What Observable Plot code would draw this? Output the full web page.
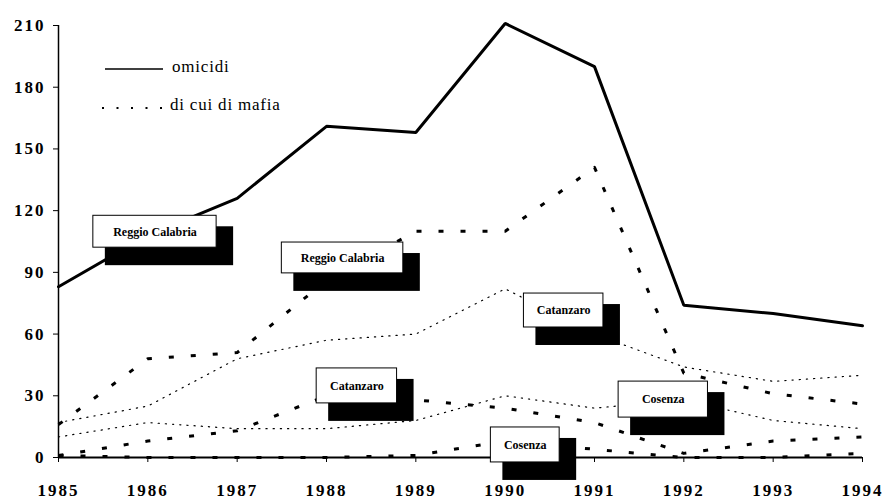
<!DOCTYPE html>
<html>
<head>
<meta charset="utf-8">
<script src="https://cdn.jsdelivr.net/npm/d3@7"></script>
<script src="https://cdn.jsdelivr.net/npm/@observablehq/plot@0.6"></script>
<style>
  html, body { margin: 0; padding: 0; background: #fff; }
  #wrap { position: relative; width: 882px; height: 500px; }
  #legend { position: absolute; left: 0; top: 0; width: 882px; height: 500px; pointer-events: none; }
  #legend .lab { position: absolute; font-family: "Liberation Serif", serif; font-size: 17px; color: #000; letter-spacing: 0.8px; white-space: nowrap; }
</style>
</head>
<body>
<div id="wrap">
  <div id="chart"></div>
  <div id="legend">
    <svg width="882" height="500" style="position:absolute;left:0;top:0">
      <line x1="105" y1="69" x2="163" y2="69" stroke="#000" stroke-width="1.5"/>
      <line x1="102" y1="108" x2="162" y2="108" stroke="#000" stroke-width="2.2" stroke-dasharray="2,12.5"/>
    </svg>
    <div class="lab" style="left:172px;top:57px;">omicidi</div>
    <div class="lab" style="left:170px;top:95px;">di cui di mafia</div>
  </div>
</div>
<script>
const years = [1985, 1986, 1987, 1988, 1989, 1990, 1991, 1992, 1993, 1994];
const yTicks = [0, 30, 60, 90, 120, 150, 180, 210];

const reggioOmicidi    = [83, 108, 126, 161, 158, 211, 190, 74, 70, 64];
const reggioMafia      = [16, 48, 51, 86, 110, 110, 141, 41, 31, 26];
const catanzaroOmicidi = [17, 25, 48, 57, 60, 82, 60, 44, 37, 40];
const catanzaroMafia   = [1, 8, 13, 30, 28, 24, 17, 2, 8, 10];
const cosenzaOmicidi   = [10, 17, 14, 14, 18, 30, 24, 28, 18, 14];
const cosenzaMafia     = [1, 0, 0, 0, 1, 8, 4, 0, 0, 2];

// province label boxes (anchored in data units: years / values)
const labelText = ["Reggio Calabria", "Reggio Calabria", "Catanzaro", "Catanzaro", "Cosenza", "Cosenza"];
const labelX1 = [1985.39, 1987.50, 1987.89, 1990.21, 1991.27, 1989.84];
const labelX2 = [1986.77, 1988.86, 1988.79, 1991.10, 1992.27, 1990.61];
const labelY1 = [102, 89.5, 26.3, 63.2, 19.4, -2.4];
const labelY2 = [117.5, 104.5, 43.3, 79.7, 36.9, 14.6];

const toRows = (vals) => years.map((y, i) => ({year: y, value: vals[i]}));
const labels = labelText.map((t, i) => ({text: t, x1: labelX1[i], x2: labelX2[i], y1: labelY1[i], y2: labelY2[i],
  xm: (labelX1[i] + labelX2[i]) / 2, ym: (labelY1[i] + labelY2[i]) / 2}));

const dashThick = {stroke: "#000", strokeWidth: 3, strokeDasharray: "5,17", strokeLinecap: "butt"};
const dotThin = {stroke: "#000", strokeWidth: 1.2, strokeDasharray: "1.2,6"};

const chart = Plot.plot({
  width: 882,
  height: 500,
  marginLeft: 58,
  marginRight: 20,
  marginTop: 25,
  marginBottom: 43,
  style: {fontFamily: "Liberation Serif, serif", fontSize: "17px", fontWeight: "bold", background: "#fff", color: "#000"},
  x: {domain: [1985, 1994], ticks: years, tickFormat: d3.format("d"), tickSize: 5, tickPadding: 21, label: null},
  y: {domain: [0, 210], ticks: yTicks, tickSize: 5, tickPadding: 8, label: null},
  marks: [
    Plot.ruleX([1985], {y1: 0, y2: 210, stroke: "#000", strokeWidth: 1.5}),
    Plot.ruleY([0], {x1: 1985, x2: 1994, stroke: "#000", strokeWidth: 2}),
    Plot.line(toRows(cosenzaOmicidi), {x: "year", y: "value", ...dotThin}),
    Plot.line(toRows(catanzaroOmicidi), {x: "year", y: "value", ...dotThin}),
    Plot.line(toRows(cosenzaMafia), {x: "year", y: "value", ...dashThick}),
    Plot.line(toRows(catanzaroMafia), {x: "year", y: "value", ...dashThick}),
    Plot.line(toRows(reggioMafia), {x: "year", y: "value", ...dashThick}),
    Plot.line(toRows(reggioOmicidi), {x: "year", y: "value", stroke: "#000", strokeWidth: 3, strokeLinejoin: "miter"}),
    // drop shadows
    Plot.rect(labels, {x1: "x1", x2: "x2", y1: "y1", y2: "y2", fill: "#000", dx: 12, dy: 11, insetRight: -5, insetBottom: -7}),
    // white boxes
    Plot.rect(labels, {x1: "x1", x2: "x2", y1: "y1", y2: "y2", fill: "#fff", stroke: "#000", strokeWidth: 1}),
    Plot.text(labels, {x: "xm", y: "ym", text: "text", fontSize: 12, fontWeight: "bold", fontFamily: "Liberation Serif, serif", letterSpacing: "1px", fill: "#000"})
  ]
});
chart.querySelectorAll("[aria-label='x-axis tick label'] text, [aria-label='y-axis tick label'] text").forEach(t => t.setAttribute("letter-spacing", "2px"));
document.getElementById("chart").appendChild(chart);
</script>
</body>
</html>
